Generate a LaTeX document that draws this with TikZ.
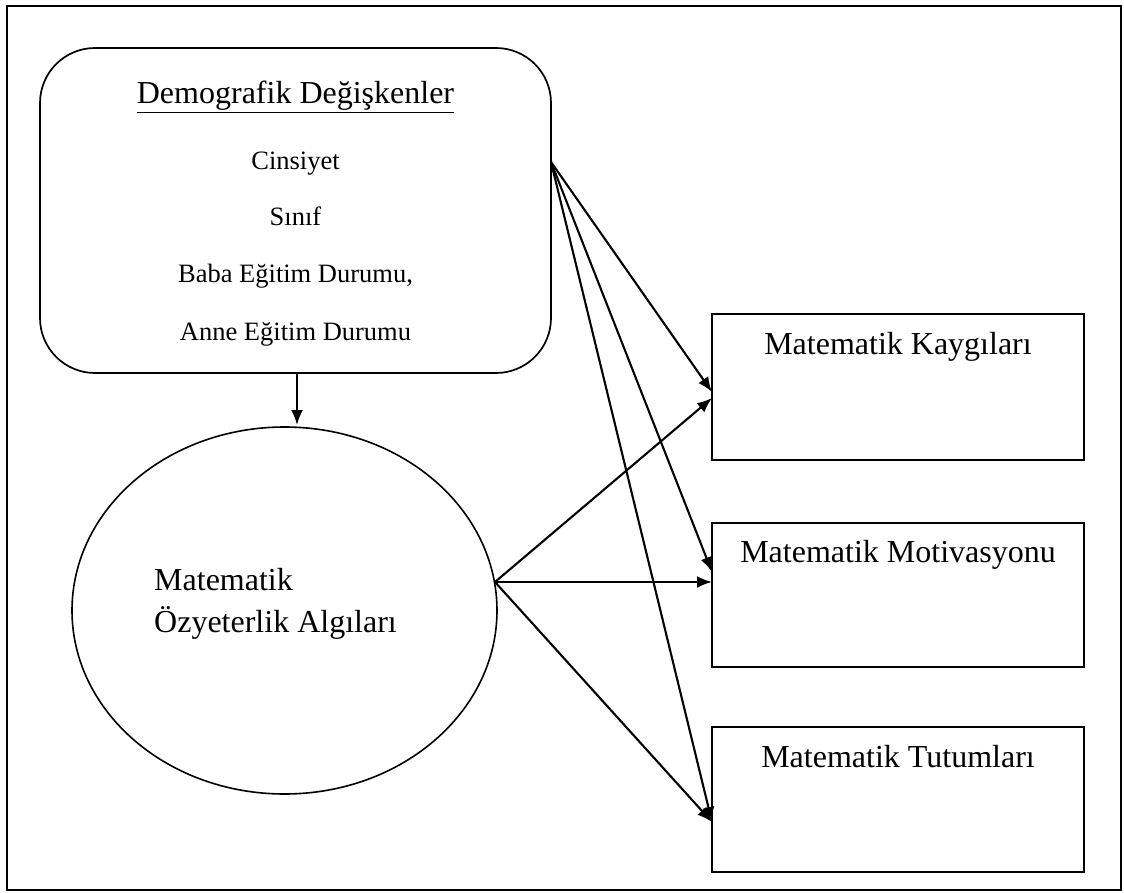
\documentclass[tikz,border=0pt]{standalone}
\usepackage{fontspec}
\setmainfont{Liberation Serif}
\usetikzlibrary{arrows.meta,shapes.geometric}
\tikzset{
  big/.style={font=\fontsize{32}{38}\selectfont, inner sep=0pt},
  small/.style={font=\fontsize{26.5}{32}\selectfont, inner sep=0pt},
  conn/.style={line width=2.1pt, -{Latex[length=15pt,width=12pt]}},
  box/.style={draw, line width=1.9pt, rectangle, inner sep=0pt, minimum width=372pt, minimum height=146pt},
}
\begin{document}
\begin{tikzpicture}[x=1pt,y=-1pt]
\useasboundingbox (0,0) rectangle (1124,893);
% outer frame
\draw[line width=2pt] (7,6) rectangle (1121,890);

% rounded demographic box
\node[draw, line width=1.7pt, rounded corners=55pt, inner sep=0pt, minimum width=511pt, minimum height=325pt] (demo) at (295.5,210.5) {};
\node[big, anchor=base] (h) at (295.5,104) {\underline{Demografik Değişkenler}};
\node[small, anchor=base] (l1) at (295.5,170) {Cinsiyet};
\node[small, anchor=base] (l2) at (295.5,226) {Sınıf};
\node[small, anchor=base] (l3) at (295.5,283) {Baba Eğitim Durumu,};
\node[small, anchor=base] (l4) at (295.5,340) {Anne Eğitim Durumu};

% ellipse
\node[draw, ellipse, line width=1.6pt, inner sep=0pt, minimum width=425pt, minimum height=367pt] (ell) at (284.5,610.5) {};
\node[big, anchor=base west] (e1) at (154,590) {Matematik};
\node[big, anchor=base west] (e2) at (154,632) {Özyeterlik Algıları};

% right boxes
\node[box] (kay) at (898,387) {};
\node[big, anchor=base] (kayt) at (898,354) {Matematik Kaygıları};
\node[box, minimum height=144pt] (mot) at (898,595) {};
\node[big, anchor=base] (mott) at (898,562) {Matematik Motivasyonu};
\node[box, minimum height=145pt] (tut) at (898,799.5) {};
\node[big, anchor=base] (tutt) at (898,767) {Matematik Tutumları};

% connection points
\coordinate (src) at (551,162);
\coordinate (esrc) at (495,582);
\coordinate (kayA) at (712,392);
\coordinate (kayB) at (712,398);
\coordinate (motA) at (712,572);
\coordinate (motB) at (712,582);
\coordinate (tutA) at (712,822);

% arrows
\draw[conn] (demo.south -| 297,0) -- (297,425);
\draw[conn] (src) -- (kayA);
\draw[conn] (src) -- (motA);
\draw[conn] (src) -- (tutA);
\draw[conn] (esrc) -- (kayB);
\draw[conn] (esrc) -- (motB);
\draw[conn] (esrc) -- (tutA);
\end{tikzpicture}
\end{document}
